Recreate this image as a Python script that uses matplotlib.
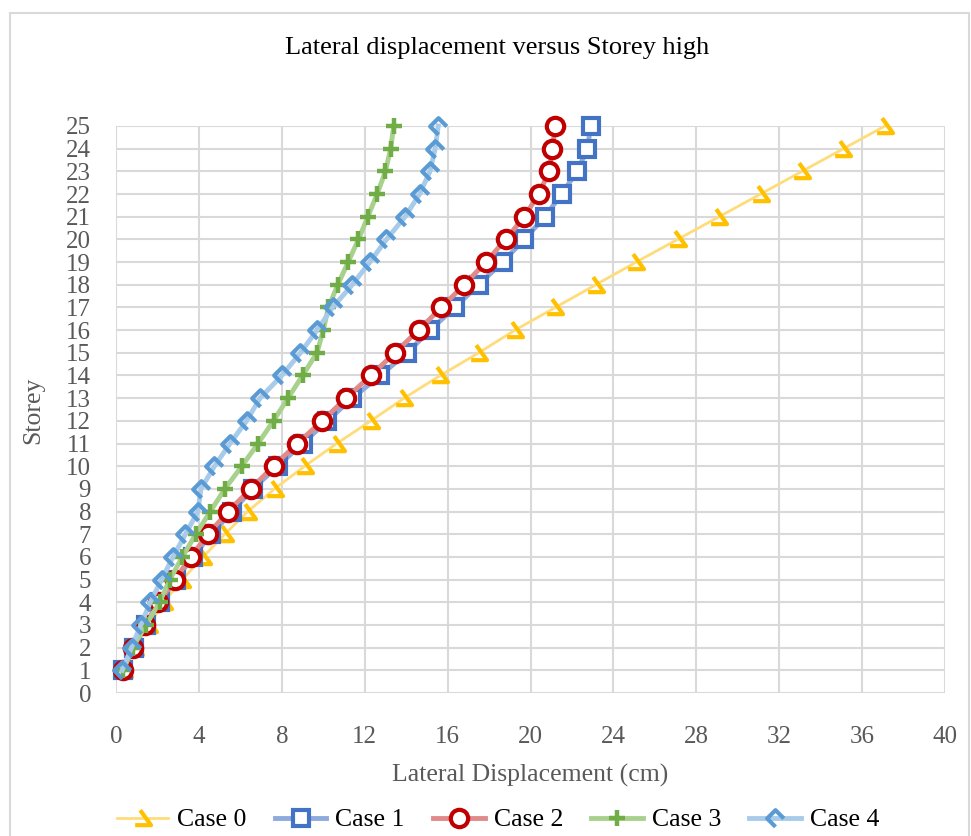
import matplotlib
matplotlib.use("Agg")
import matplotlib.pyplot as plt
from matplotlib.path import Path
from matplotlib.patches import Rectangle

storeys = list(range(1, 26))
case0 = [0.4, 0.9, 1.6, 2.3, 3.2, 4.2, 5.25, 6.35, 7.65, 9.1, 10.65, 12.3, 13.9,
         15.65, 17.5, 19.25, 21.2, 23.15, 25.1, 27.1, 29.1, 31.1, 33.1, 35.1, 37.1]
case1 = [0.35, 0.85, 1.45, 2.1, 2.9, 3.7, 4.6, 5.6, 6.6, 7.8, 9.0, 10.2, 11.4,
         12.75, 14.05, 15.15, 16.35, 17.5, 18.65, 19.7, 20.7, 21.5, 22.25, 22.75, 22.9]
case2 = [0.35, 0.8, 1.4, 2.05, 2.85, 3.6, 4.45, 5.4, 6.5, 7.6, 8.75, 9.95, 11.1,
         12.3, 13.45, 14.6, 15.7, 16.8, 17.85, 18.8, 19.7, 20.4, 20.9, 21.05, 21.2]
case3 = [0.35, 0.8, 1.45, 2.1, 2.6, 3.2, 3.85, 4.55, 5.25, 6.07, 6.85, 7.6, 8.3,
         9.0, 9.7, 10.0, 10.25, 10.7, 11.2, 11.7, 12.15, 12.6, 13.0, 13.25, 13.4]
case4 = [0.3, 0.75, 1.2, 1.65, 2.2, 2.75, 3.35, 3.95, 4.1, 4.75, 5.5, 6.3, 6.95,
         8.0, 8.9, 9.7, 10.45, 11.4, 12.25, 13.05, 13.95, 14.65, 15.15, 15.4, 15.55]
labels = ["Case 0", "Case 1", "Case 2", "Case 3", "Case 4"]
x_ticks = list(range(0, 41, 4))
y_ticks = list(range(0, 26))

plt.rcParams['font.family'] = ['Liberation Serif', 'DejaVu Serif']

fig = plt.figure(figsize=(9.71, 8.36), dpi=100)
ax = fig.add_axes([116/971, 1-693/836, 829/971, 567/836])

m0 = Path([(-0.2, 0.5), (0.45, -0.4), (-0.5, -0.4)],
          [Path.MOVETO, Path.LINETO, Path.LINETO])
m4 = Path([(0, -0.5), (-0.5, 0), (0, 0.5), (0.5, 0)],
          [Path.MOVETO, Path.LINETO, Path.LINETO, Path.LINETO])

styles = [
    dict(color='#FFDC7A', lw=2.0, marker=m0, ms=12, mfc='none', mec='#FFC000', mew=3),
    dict(color='#8FAADC', lw=3.5, marker='s', ms=11, mfc='white', mec='#4472C4', mew=3),
    dict(color='#E08A8A', lw=3.5, marker='o', ms=12.5, mfc='white', mec='#C00000', mew=3),
    dict(color='#A9D18E', lw=3.5, marker='+', ms=11, mec='#70AD47', mew=3.2),
    dict(color='#A8CBEA', lw=3.5, marker=m4, ms=12, mfc='none', mec='#5B9BD5', mew=3),
]
series = [case0, case1, case2, case3, case4]
handles = []
for vals, lab, st in zip(series, labels, styles):
    h, = ax.plot(vals, storeys, label=lab, zorder=3, clip_on=False, **st)
    handles.append(h)

ax.set_xlim(0, 40)
ax.set_ylim(0, 25)
ax.set_xticks(x_ticks)
ax.set_yticks(y_ticks)
ax.grid(True, color='#D9D9D9', lw=1.5, zorder=0)
ax.set_axisbelow(True)
for s in ax.spines.values():
    s.set_visible(False)
ax.tick_params(axis='both', length=0, labelsize=18, colors='#595959')
ax.tick_params(axis='x', pad=24)
ax.tick_params(axis='y', pad=18)

fig.text(0.512, 1-48/836, "Lateral displacement versus Storey high", ha='center',
         va='center', fontsize=19, color='black')
fig.text(530/971, 1-775/836, "Lateral Displacement (cm)", ha='center', va='center',
         fontsize=18.5, color='#595959')
fig.text(33/971, 1-410/836, "Storey", ha='center', va='center', rotation=90,
         fontsize=18.5, color='#595959')

leg = fig.legend(handles=handles, loc='center', bbox_to_anchor=(498/971, 1-820/836),
                 ncol=5, frameon=False, fontsize=18.5, handlelength=2.0,
                 handletextpad=0.35, columnspacing=1.1, borderpad=0)

fig.patches.append(Rectangle((10/971, -0.1), 959/971, 1.1-13/836,
                             transform=fig.transFigure, fill=False,
                             edgecolor='#D9D9D9', lw=1.5))

fig.savefig("out.png", dpi=100)
